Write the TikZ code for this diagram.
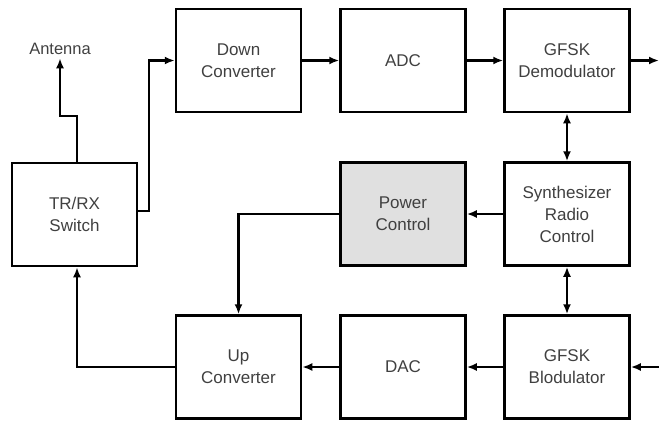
\documentclass[tikz,border=0pt]{standalone}
\usepackage{fontspec}
\setmainfont{Liberation Sans}
\usetikzlibrary{arrows.meta}
\begin{document}
\begin{tikzpicture}[
    x=1pt, y=-1pt,
    block/.style={rectangle, draw, line width=2.5pt, minimum width=125pt, minimum height=103pt, align=center, text=black!75, font=\fontsize{17}{22}\selectfont},
    label/.style={text=black!75, font=\fontsize{16.5}{22}\selectfont},
    link/.style={line width=2.3pt, -{Latex[length=10pt,width=8pt]}},
    dlink/.style={line width=2.3pt, {Latex[length=10pt,width=8pt]}-{Latex[length=10pt,width=8pt]}}
]
    \useasboundingbox (0,0) rectangle (659,421);

    \node[block] (switch) at (74.5,214.5) {TR/RX\\Switch};
    \node[block] (downconv) at (238.5,60.5) {Down\\Converter};
    \node[block] (adc) at (403,60.5) {ADC};
    \node[block] (demod) at (567,60.5) {GFSK\\Demodulator};
    \node[block, fill=black!12] (power) at (403,214) {Power\\Control};
    \node[block] (synth) at (567,214) {Synthesizer\\Radio\\Control};
    \node[block] (upconv) at (238.5,367) {Up\\Converter};
    \node[block] (dac) at (403,367) {DAC};
    \node[block] (blod) at (567,367) {GFSK\\Blodulator};

    \node[label] (antenna) at (60,49) {Antenna};
    \coordinate (dataout) at (659,60.5);
    \coordinate (datain) at (659,367);

    % receive path
    \draw[link] ([xshift=2.5pt]switch.north) -- ++(0,-46) -| (antenna.south);
    \draw[link] ([yshift=3.5pt]switch.east) -- ++(11,0) |- (downconv.west);
    \draw[link] (downconv) -- (adc);
    \draw[link] (adc) -- (demod);
    \draw[link] (demod) -- (dataout);

    % control
    \draw[dlink] (demod) -- (synth);
    \draw[dlink] (synth) -- (blod);
    \draw[link] (synth) -- (power);
    \draw[link] (power.west) -| (upconv.north);

    % transmit path
    \draw[link] (datain) -- (blod);
    \draw[link] (blod) -- (dac);
    \draw[link] (dac) -- (upconv);
    \draw[link] (upconv.west) -| ([xshift=2.5pt]switch.south);
\end{tikzpicture}
\end{document}
